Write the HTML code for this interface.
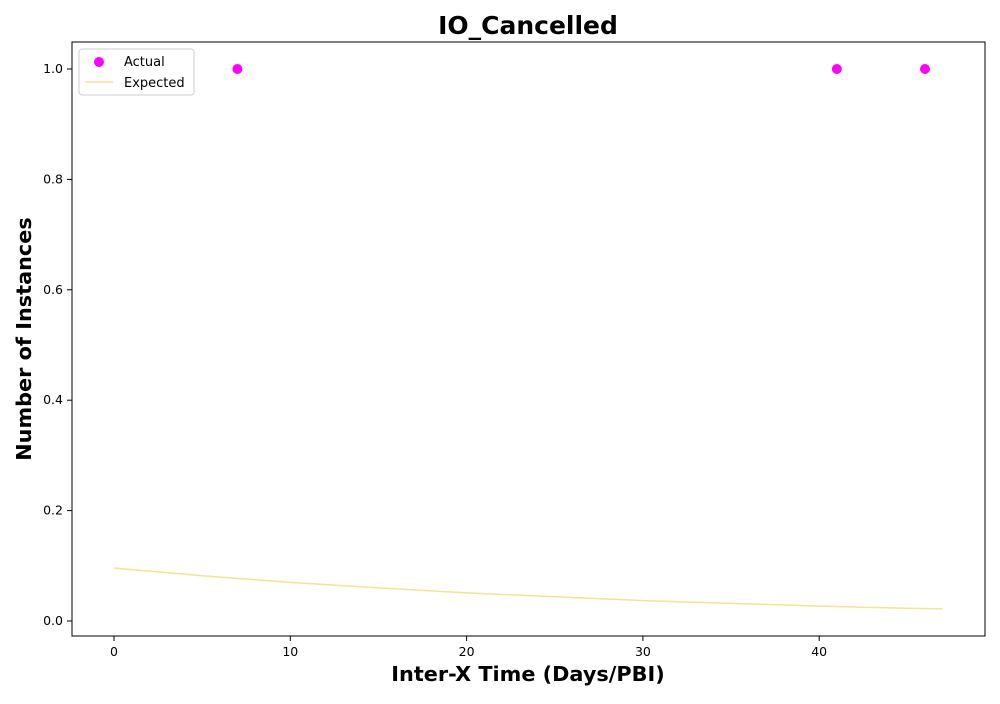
<!DOCTYPE html>
<html><head><meta charset="utf-8"><style>
body{margin:0;background:#fff;font-family:"DejaVu Sans",sans-serif}
svg text{font-family:"DejaVu Sans","Liberation Sans",sans-serif}
</style></head><body>
<svg id="chart" width="1000" height="700">
<rect width="1000" height="700" fill="#fff"/>
<text x="528" y="34" font-size="25" font-weight="bold" text-anchor="middle">IO_Cancelled</text>
<text x="528" y="681" font-size="20.8" font-weight="bold" text-anchor="middle">Inter-X Time (Days/PBI)</text>
<text transform="translate(31,339) rotate(-90)" font-size="20.8" font-weight="bold" text-anchor="middle">Number of Instances</text>
<g id="marks"></g>
<rect x="72" y="42" width="913" height="594" fill="none" stroke="#000" stroke-width="1"/>
<g>
<rect x="79" y="49" width="115" height="46" rx="3" fill="#fff" stroke="#ccc"/>
<circle cx="99" cy="62" r="5" fill="#ff00ff"/>
<text x="124" y="66" font-size="13">Actual</text>
<line x1="85" y1="82" x2="113" y2="82" stroke="#f0e68c" stroke-width="1.5"/>
<text x="124" y="87" font-size="13">Expected</text>
</g>
</svg>
<script>
const xTicks=[0,10,20,30,40];
const yTicks=[0.0,0.2,0.4,0.6,0.8,1.0];
const actualX=[7,41,46];
const actualY=[1,1,1];
const expectedX=[0,5,10,15,20,25,30,35,40,45,47];
const expectedY=[0.096,0.082,0.070,0.060,0.051,0.044,0.037,0.032,0.027,0.023,0.022];
const sx=v=>114+v*17.63;
const sy=v=>621-v*552;
const NS="http://www.w3.org/2000/svg";
const g=document.getElementById('marks');
function mk(t,a){const e=document.createElementNS(NS,t);for(const k in a)e.setAttribute(k,a[k]);g.appendChild(e);return e;}
xTicks.forEach(t=>{
 const l=mk('line',{x1:sx(t),x2:sx(t),y1:636,y2:641,stroke:'#000'});
 
 
 const tx=mk('text',{x:sx(t),y:656,'font-size':12.5,'text-anchor':'middle'});tx.textContent=t;
 
 
});
yTicks.forEach(t=>{
 const l=mk('line',{x1:67,x2:72,y1:sy(t),y2:sy(t),stroke:'#000'});
 
 
 const tx=mk('text',{x:63,y:sy(t)+4,'font-size':12.5,'text-anchor':'end'});tx.textContent=t.toFixed(1);
 
 
});
const p=mk('polyline',{points:expectedX.map((x,i)=>sx(x)+','+sy(expectedY[i])).join(' '),fill:'none',stroke:'#f0e68c','stroke-width':1.5});


actualX.forEach((x,i)=>{
 const c=mk('circle',{cx:sx(x),cy:sy(actualY[i]),r:5,fill:'#ff00ff'});
 
 
});
</script>
</body></html>
